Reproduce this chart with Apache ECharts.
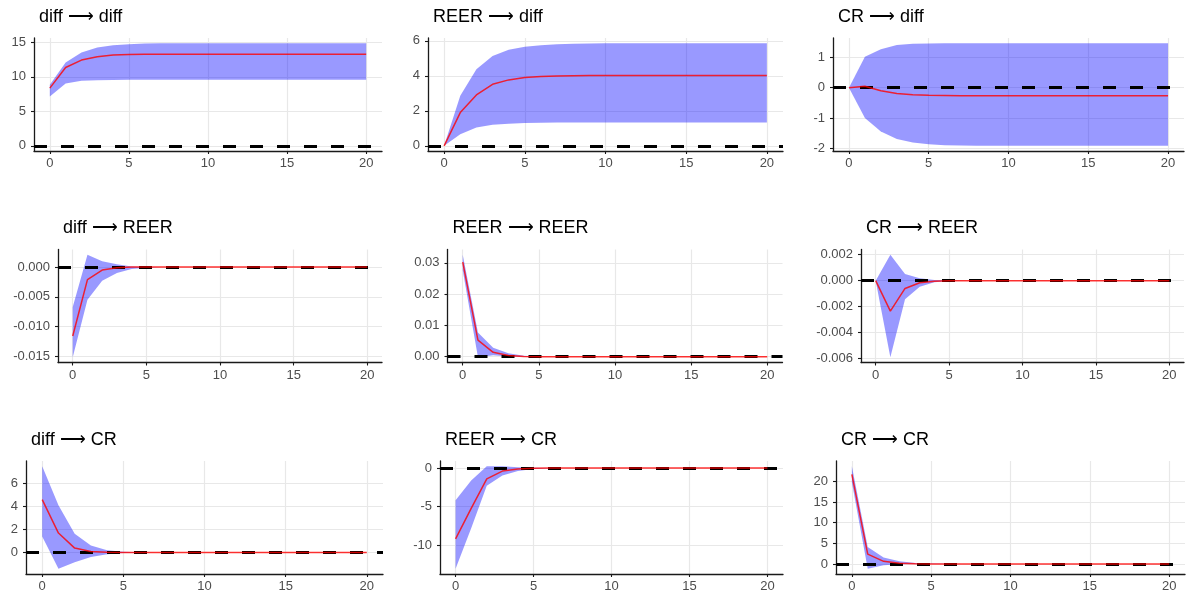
<!DOCTYPE html>
<html><head><meta charset="utf-8">
<script src="https://cdn.jsdelivr.net/npm/echarts@6/dist/echarts.min.js"></script>
<style>html,body{margin:0;padding:0;background:#fff}#c{width:1188px;height:598px}</style>
</head><body><div id="c"></div>
<script>
// ---------- DATA ----------
const steps = [0,1,2,3,4,5,6,7,8,9,10,11,12,13,14,15,16,17,18,19,20];
const xTicks = [0,5,10,15,20];
const titles = ['diff ⟶ diff','REER ⟶ diff','CR ⟶ diff','diff ⟶ REER','REER ⟶ REER','CR ⟶ REER','diff ⟶ CR','REER ⟶ CR','CR ⟶ CR'];

// diff -> diff
const irf_diff_diff   = [8.38,11.37,12.44,12.92,13.17,13.26,13.29,13.30,13.30,13.30,13.30,13.30,13.30,13.30,13.30,13.30,13.30,13.30,13.30,13.30,13.30];
const lower_diff_diff = [7.16,9.05,9.44,9.53,9.57,9.58,9.59,9.60,9.60,9.60,9.60,9.60,9.60,9.60,9.60,9.60,9.60,9.60,9.60,9.60,9.60];
const upper_diff_diff = [8.86,12.10,13.55,14.27,14.60,14.75,14.83,14.87,14.89,14.90,14.90,14.90,14.90,14.90,14.90,14.90,14.90,14.90,14.90,14.90,14.90];
// REER -> diff
const irf_reer_diff   = [0,1.90,2.91,3.52,3.77,3.90,3.96,3.99,4.01,4.02,4.02,4.02,4.02,4.02,4.02,4.02,4.02,4.02,4.02,4.02,4.02];
const lower_reer_diff = [0,0.67,1.05,1.20,1.27,1.30,1.32,1.33,1.33,1.33,1.33,1.33,1.33,1.33,1.33,1.33,1.33,1.33,1.33,1.33,1.33];
const upper_reer_diff = [0,2.86,4.38,5.14,5.49,5.67,5.75,5.80,5.83,5.85,5.86,5.87,5.87,5.87,5.87,5.87,5.87,5.87,5.87,5.87,5.87];
// CR -> diff
const irf_cr_diff   = [0,0.05,-0.10,-0.19,-0.23,-0.25,-0.26,-0.27,-0.27,-0.27,-0.27,-0.27,-0.27,-0.27,-0.27,-0.27,-0.27,-0.27,-0.27,-0.27,-0.27];
const lower_cr_diff = [0,-1.00,-1.45,-1.69,-1.81,-1.87,-1.90,-1.91,-1.92,-1.92,-1.92,-1.92,-1.92,-1.92,-1.92,-1.92,-1.92,-1.92,-1.92,-1.92,-1.92];
const upper_cr_diff = [0,1.02,1.27,1.41,1.45,1.46,1.47,1.47,1.47,1.47,1.47,1.47,1.47,1.47,1.47,1.47,1.47,1.47,1.47,1.47,1.47];
// diff -> REER
const irf_diff_reer   = [-0.0116,-0.0021,-0.0005,-0.0001,0,0,0,0,0,0,0,0,0,0,0,0,0,0,0,0,0];
const lower_diff_reer = [-0.0152,-0.0055,-0.0023,-0.0010,-0.0003,-0.0001,0,0,0,0,0,0,0,0,0,0,0,0,0,0,0];
const upper_diff_reer = [-0.0067,0.0021,0.0010,0.0005,0.0001,0.00003,0,0,0,0,0,0,0,0,0,0,0,0,0,0,0];
// REER -> REER
const irf_reer_reer   = [0.0302,0.0053,0.0014,0.0004,0.0001,0,0,0,0,0,0,0,0,0,0,0,0,0,0,0,0];
const lower_reer_reer = [0.0276,-0.0002,0.0005,0.0001,0,0,0,0,0,0,0,0,0,0,0,0,0,0,0,0,0];
const upper_reer_reer = [0.0326,0.0077,0.0029,0.0011,0.0003,0.0001,0,0,0,0,0,0,0,0,0,0,0,0,0,0,0];
// CR -> REER
const irf_cr_reer   = [0,-0.00234,-0.0006,-0.00016,-0.00004,0,0,0,0,0,0,0,0,0,0,0,0,0,0,0,0];
const lower_cr_reer = [0,-0.0059,-0.00143,-0.00047,-0.00013,-0.00003,0,0,0,0,0,0,0,0,0,0,0,0,0,0,0];
const upper_cr_reer = [0,0.0020,0.00052,0.00018,0.00005,0.00001,0,0,0,0,0,0,0,0,0,0,0,0,0,0,0];
// diff -> CR
const irf_diff_cr   = [4.60,1.69,0.38,0.09,0.02,0,0,0,0,0,0,0,0,0,0,0,0,0,0,0,0];
const lower_diff_cr = [1.40,-1.43,-0.85,-0.40,-0.15,-0.04,-0.01,0,0,0,0,0,0,0,0,0,0,0,0,0,0];
const upper_diff_cr = [7.52,4.11,1.63,0.61,0.20,0.06,0.02,0,0,0,0,0,0,0,0,0,0,0,0,0,0];
// REER -> CR
const irf_reer_cr   = [-9.20,-5.24,-1.41,-0.40,-0.13,-0.03,-0.01,0,0,0,0,0,0,0,0,0,0,0,0,0,0];
const lower_reer_cr = [-13.08,-7.80,-2.29,-0.97,-0.40,-0.13,-0.04,-0.01,0,0,0,0,0,0,0,0,0,0,0,0,0];
const upper_reer_cr = [-4.18,-1.63,0.24,0.22,0.09,0.03,0.01,0,0,0,0,0,0,0,0,0,0,0,0,0,0];
// CR -> CR
const irf_cr_cr   = [21.70,2.37,0.63,0.16,0.04,0.01,0,0,0,0,0,0,0,0,0,0,0,0,0,0,0];
const lower_cr_cr = [19.80,-1.19,-0.30,-0.10,-0.03,-0.01,0,0,0,0,0,0,0,0,0,0,0,0,0,0,0];
const upper_cr_cr = [23.70,4.10,1.58,0.63,0.24,0.08,0.02,0,0,0,0,0,0,0,0,0,0,0,0,0,0];

// y tick labels per panel
const yTicks_diff_diff = [0,5,10,15];
const yTicks_reer_diff = [0,2,4,6];
const yTicks_cr_diff   = [-2,-1,0,1];
const yTicks_diff_reer = [-0.015,-0.010,-0.005,0.000];
const yTicks_reer_reer = [0.00,0.01,0.02,0.03];
const yTicks_cr_reer   = [-0.006,-0.004,-0.002,0.000,0.002];
const yTicks_diff_cr   = [0,2,4,6];
const yTicks_reer_cr   = [-10,-5,0];
const yTicks_cr_cr     = [0,5,10,15,20];

// ---------- LAYOUT ----------
const panels = [
  {irf:irf_diff_diff, lo:lower_diff_diff, up:upper_diff_diff, ticks:yTicks_diff_diff, dec:0, left:34,  width:348, top:38},
  {irf:irf_reer_diff, lo:lower_reer_diff, up:upper_reer_diff, ticks:yTicks_reer_diff, dec:0, left:428, width:355, top:38},
  {irf:irf_cr_diff,   lo:lower_cr_diff,   up:upper_cr_diff,   ticks:yTicks_cr_diff,   dec:0, left:833, width:351, top:38},
  {irf:irf_diff_reer, lo:lower_diff_reer, up:upper_diff_reer, ticks:yTicks_diff_reer, dec:3, left:58,  width:324, top:249.5},
  {irf:irf_reer_reer, lo:lower_reer_reer, up:upper_reer_reer, ticks:yTicks_reer_reer, dec:2, left:447.5,width:335, top:249.5},
  {irf:irf_cr_reer,   lo:lower_cr_reer,   up:upper_cr_reer,   ticks:yTicks_cr_reer,   dec:3, left:861, width:323, top:249.5},
  {irf:irf_diff_cr,   lo:lower_diff_cr,   up:upper_diff_cr,   ticks:yTicks_diff_cr,   dec:0, left:26,  width:357, top:461},
  {irf:irf_reer_cr,   lo:lower_reer_cr,   up:upper_reer_cr,   ticks:yTicks_reer_cr,   dec:0, left:440, width:343, top:461},
  {irf:irf_cr_cr,     lo:lower_cr_cr,     up:upper_cr_cr,     ticks:yTicks_cr_cr,     dec:0, left:836, width:349, top:461}
];
const H = 113;
const FONT = '"Liberation Sans", Arial, Helvetica, sans-serif';
const AX = '#1a1a1a', GRID = '#e8e8e8', LAB = '#4d4d4d';

const grid = [], xAxis = [], yAxis = [], series = [], title = [];
panels.forEach((p, i) => {
  grid.push({left:p.left, top:p.top, width:p.width, height:H, containLabel:false, outerBoundsMode:'none'});
  title.push({text:titles[i], left:p.left+5, top:p.top-30, padding:0,
    textStyle:{fontFamily:FONT, fontSize:18, fontWeight:'normal', color:'#000'}});
  const lo = Math.min(0, ...p.lo), hi = Math.max(0, ...p.up);
  const pad = (hi - lo) * 0.05;
  xAxis.push({type:'value', gridIndex:i, min:-1, max:21,
    axisLine:{show:true, onZero:false, lineStyle:{color:AX, width:1.3}},
    axisTick:{show:true, length:3, customValues:xTicks, lineStyle:{color:AX, width:1.1}},
    axisLabel:{show:true, customValues:xTicks, margin:6, fontFamily:FONT, fontSize:13, color:LAB},
    splitLine:{show:true, lineStyle:{color:GRID, width:1.2}}});
  yAxis.push({type:'value', gridIndex:i, min:lo-pad, max:hi+pad,
    axisLine:{show:true, onZero:false, lineStyle:{color:AX, width:1.3}},
    axisTick:{show:true, length:3, customValues:p.ticks, lineStyle:{color:AX, width:1.1}},
    axisLabel:{show:true, customValues:p.ticks, margin:8, fontFamily:FONT, fontSize:13, color:LAB,
      formatter: v => Number(v).toFixed(p.dec)},
    splitLine:{show:true, lineStyle:{color:GRID, width:1.2}}});
  // confidence ribbon: one polygon through the axis scales
  series.push({type:'custom', xAxisIndex:i, yAxisIndex:i, silent:true, z:2, clip:true,
    data: steps.map((s,k)=>[s, p.lo[k], p.up[k]]),
    encode:{x:0, y:[1,2]},
    renderItem: (params, api) => {
      if (params.dataIndex !== 0) return null;
      const pts = [];
      steps.forEach((s,k) => pts.push(api.coord([s, p.up[k]])));
      for (let k = steps.length-1; k >= 0; k--) pts.push(api.coord([steps[k], p.lo[k]]));
      return {type:'polygon', shape:{points:pts}, style:{fill:'rgba(0,0,255,0.4)', stroke:null}};
    }});
  series.push({type:'line', xAxisIndex:i, yAxisIndex:i, data: steps.map((s,k)=>[s, p.irf[k]]),
    symbol:'none', silent:true, z:6, lineStyle:{color:'#ff0000', width:1.5, opacity:0.8},
    markLine:{silent:true, symbol:'none', z:3, animation:false, label:{show:false},
      lineStyle:{color:'#000', width:3, type:[13,14]}, data:[{yAxis:0}]}});
});

const chart = echarts.init(document.getElementById('c'), null, {renderer:'canvas'});
chart.setOption({animation:false, backgroundColor:'#fff', title, grid, xAxis, yAxis, series});
</script></body></html>
